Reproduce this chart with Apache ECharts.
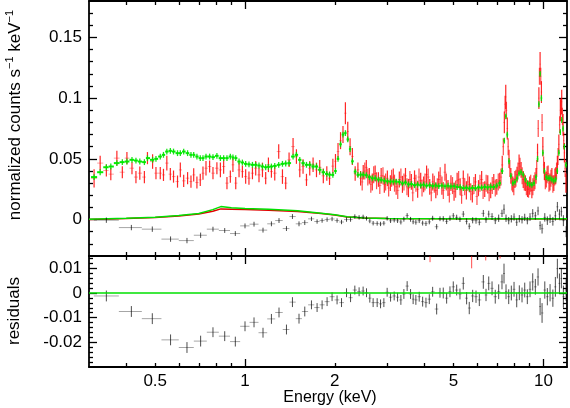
<!DOCTYPE html>
<html>
<head>
<meta charset="utf-8">
<script src="https://cdn.jsdelivr.net/npm/echarts@6/dist/echarts.min.js"></script>
<style>
  html, body { margin: 0; padding: 0; background: #fff; }
  #chart { width: 570px; height: 408px; }
</style>
</head>
<body>
<div id="chart"></div>
<script>
// spectra (red and green groups share the binning), energies in keV
const specE = [
  0.312,0.327,0.343,0.355,0.372,0.388,0.402,0.418,0.431,0.444,
  0.460,0.471,0.490,0.503,0.520,0.533,0.547,0.562,0.576,0.594,
  0.607,0.623,0.642,0.659,0.673,0.690,0.708,0.723,0.740,0.761,
  0.781,0.805,0.827,0.848,0.870,0.893,0.911,0.931,0.955,0.980,
  1.005,1.031,1.059,1.086,1.114,1.144,1.173,1.198,1.226,1.258,
  1.297,1.335,1.369,1.405,1.449,1.487,1.526,1.565,1.607,1.648,
  1.691,1.736,1.78,1.83,1.88,1.92,1.97,2.01,2.05,2.09,
  2.13,2.17,2.21,2.25,2.29,2.34,2.39,2.44,2.49,2.55,
  2.61,2.67,2.73,2.80,2.86,2.93,3.00,3.07,3.14,3.21,
  3.29,3.37,3.45,3.53,3.61,3.70,3.79,3.88,3.97,4.06,
  4.16,4.26,4.36,4.46,4.57,4.68,4.79,4.90,5.02,5.14,
  5.26,5.39,5.52,5.65,5.78,5.92,6.06,6.21,6.36,6.51,
  6.66,6.82,6.98,7.14,7.28,7.40,7.48,7.57,7.67,7.78,
  7.90,8.03,8.16,8.29,8.42,8.56,8.70,8.85,9.00,9.15,
  9.30,9.45,9.56,9.66,9.75,9.85,9.96,10.08,10.22,10.37,
  10.52,10.68,10.84,11.00,11.14,11.27,11.40,11.52,11.64,11.76,
  11.90
];
const redY = [
  0.034,0.0465,0.0404,0.0374,0.0506,0.039,0.0506,0.0423,0.035,0.0382,
  0.035,0.0506,0.0478,0.0382,0.0382,0.0368,0.0465,0.0374,0.0354,0.0313,
  0.0409,0.0319,0.0341,0.0313,0.0368,0.0305,0.0327,0.0382,0.0423,0.0437,
  0.0382,0.0423,0.0409,0.0437,0.030,0.0354,0.0451,0.030,0.0409,0.0395,
  0.0354,0.0341,0.0382,0.0423,0.0368,0.0409,0.0341,0.0451,0.0395,0.0382,
  0.056,0.0354,0.030,0.0492,0.0601,0.0519,0.0409,0.0437,0.0327,0.0423,
  0.0451,0.0409,0.043,0.036,0.038,0.034,0.044,0.048,0.056,0.065,
  0.070,0.0876,0.0725,0.060,0.052,0.038,0.041,0.034,0.039,0.043,
  0.036,0.031,0.038,0.033,0.036,0.029,0.034,0.030,0.035,0.027,
  0.033,0.029,0.036,0.026,0.031,0.034,0.025,0.032,0.029,0.037,
  0.027,0.031,0.024,0.033,0.028,0.039,0.026,0.030,0.023,0.032,
  0.027,0.034,0.024,0.029,0.021,0.031,0.026,0.033,0.025,0.029,
  0.024,0.031,0.027,0.032,0.045,0.080,0.101,0.075,0.050,0.036,
  0.029,0.033,0.037,0.046,0.041,0.033,0.030,0.025,0.028,0.024,
  0.030,0.036,0.055,0.100,0.128,0.105,0.060,0.040,0.033,0.038,
  0.031,0.036,0.030,0.036,0.045,0.062,0.090,0.097,0.078,0.055,
  0.030
];
const redErr = [
  0.0075,0.006,0.005,0.005,0.006,0.005,0.005,0.005,0.005,0.0055,
  0.005,0.005,0.006,0.005,0.005,0.005,0.006,0.005,0.005,0.005,
  0.006,0.005,0.005,0.005,0.0055,0.005,0.005,0.0055,0.006,0.005,
  0.005,0.005,0.006,0.006,0.005,0.005,0.006,0.005,0.006,0.005,
  0.006,0.0055,0.005,0.006,0.006,0.006,0.005,0.006,0.005,0.006,
  0.006,0.006,0.005,0.006,0.007,0.006,0.006,0.006,0.005,0.006,
  0.006,0.006,0.006,0.006,0.006,0.0055,0.006,0.006,0.007,0.007,
  0.007,0.009,0.008,0.007,0.007,0.006,0.006,0.006,0.006,0.006,
  0.0065,0.007,0.0065,0.006,0.0065,0.007,0.0065,0.0065,0.007,0.0065,
  0.0065,0.007,0.0065,0.0075,0.0065,0.0065,0.007,0.0065,0.0065,0.0075,
  0.0065,0.007,0.0065,0.0065,0.0075,0.007,0.0065,0.0065,0.0075,0.0065,
  0.007,0.0065,0.0075,0.0065,0.007,0.0065,0.0065,0.007,0.0065,0.0075,
  0.0065,0.0065,0.0065,0.0065,0.0075,0.009,0.010,0.009,0.0075,0.0065,
  0.0065,0.007,0.0065,0.0075,0.0065,0.007,0.0065,0.0065,0.0075,0.0065,
  0.0065,0.0065,0.0075,0.009,0.010,0.009,0.008,0.0075,0.0065,0.0065,
  0.007,0.0065,0.0065,0.007,0.0075,0.008,0.009,0.010,0.009,0.008,
  0.008
];
// second run of red bins, interleaved with the first above 2.4 keV
const redE2 = [
  2.47,2.52,2.58,2.64,2.70,2.76,2.83,2.90,2.96,3.03,
  3.10,3.17,3.25,3.33,3.41,3.49,3.57,3.65,3.74,3.83,
  3.92,4.01,4.11,4.21,4.31,4.41,4.51,4.62,4.73,4.84,
  4.96,5.08,5.20,5.32,5.45,5.58,5.71,5.85,5.99,6.13,
  6.28,6.43,6.58,6.74,6.90,7.06,7.21,7.34,7.44,7.52,
  7.62,7.72,7.84,7.96,8.09,8.22,8.35,8.49,8.63,8.77,
  8.92,9.07,9.22,9.37,9.50,9.61,9.70,9.80,9.90,10.02,
  10.15,10.29,10.44,10.60,10.76,10.92,11.07,11.20,11.34,11.46,
  11.58,11.70,11.83
];
const redY2 = [
  0.031,0.040,0.035,0.029,0.037,0.032,0.028,0.036,0.031,0.026,
  0.034,0.030,0.024,0.035,0.031,0.027,0.033,0.022,0.030,0.035,
  0.026,0.031,0.035,0.022,0.029,0.027,0.036,0.024,0.031,0.021,
  0.028,0.025,0.033,0.020,0.027,0.031,0.023,0.028,0.019,0.030,
  0.024,0.030,0.022,0.028,0.026,0.031,0.035,0.060,0.095,0.090,
  0.060,0.042,0.031,0.027,0.034,0.040,0.044,0.036,0.031,0.027,
  0.025,0.030,0.027,0.032,0.042,0.075,0.118,0.118,0.080,0.045,
  0.032,0.037,0.030,0.034,0.029,0.035,0.040,0.052,0.078,0.093,
  0.085,0.065,0.042
];
const redErr2 = 0.007;
const greenY = [
  0.035,0.039,0.0431,0.0437,0.0465,0.0473,0.0478,0.0492,0.0486,0.0478,
  0.0473,0.0506,0.0492,0.050,0.0519,0.0533,0.056,0.0566,0.056,0.0547,
  0.0547,0.056,0.0547,0.0533,0.0533,0.0519,0.0506,0.0506,0.0519,0.0519,
  0.0514,0.0525,0.0506,0.0506,0.0506,0.0519,0.0512,0.0506,0.0478,0.047,
  0.0459,0.0455,0.0451,0.0451,0.0445,0.0437,0.0431,0.0434,0.0437,0.0442,
  0.0451,0.0459,0.0462,0.0465,0.0519,0.0533,0.0492,0.0465,0.0451,0.0451,
  0.0437,0.0437,0.041,0.039,0.0376,0.037,0.0368,0.040,0.050,0.062,
  0.070,0.0712,0.066,0.058,0.048,0.0395,0.0368,0.037,0.037,0.0365,
  0.035,0.034,0.034,0.033,0.0327,0.032,0.0315,0.0313,0.0313,0.0313,
  0.031,0.0298,0.0305,0.029,0.0292,0.0283,0.0288,0.0282,0.0287,0.0279,
  0.0283,0.0277,0.0281,0.0276,0.028,0.0274,0.0279,0.0273,0.0275,0.0268,
  0.0266,0.0259,0.0262,0.0256,0.0261,0.0258,0.0266,0.0263,0.0269,0.0265,
  0.027,0.0268,0.028,0.030,0.040,0.065,0.085,0.070,0.048,0.036,
  0.030,0.031,0.034,0.038,0.039,0.037,0.033,0.030,0.029,0.0286,
  0.030,0.035,0.050,0.095,0.120,0.100,0.055,0.040,0.035,0.034,
  0.034,0.033,0.032,0.033,0.040,0.055,0.072,0.082,0.075,0.060,
  0.045
];
const greenErr = 0.0024;

// black group: data (top), residuals (bottom), errors
const blackE = [
  0.343,0.416,0.489,0.563,0.639,0.710,0.781,0.855,0.928,1.000,
  1.072,1.149,1.226,1.300,1.377,1.442,1.517,1.586,1.670,1.744,
  1.813,1.884,1.958,2.035,2.106,2.189,2.258,2.334,2.412,2.488,
  2.554,2.620,2.688,2.773,2.846,2.920,2.995,3.075,3.162,3.246,
  3.330,3.408,3.495,3.588,3.66,3.738,3.836,3.939,4.041,4.146,
  4.255,4.389,4.503,4.618,4.74,4.863,4.989,5.122,5.253,5.389,
  5.53,5.644,5.795,5.946,6.100,6.291,6.423,6.559,6.729,6.898,
  7.083,7.266,7.38,7.496,7.653,7.808,7.974,8.14,8.306,8.481,
  8.660,8.835,9.021,9.211,9.399,9.597,9.75,9.90,10.11,10.31,
  10.53,10.76,10.97,11.14,11.32,11.49,11.67,11.92
];
const blackY = [
  -0.0005,-0.0066,-0.0079,-0.0161,-0.0173,-0.0129,-0.0079,-0.009,-0.0115,-0.0052,
  -0.0038,-0.0087,-0.0035,-0.0008,-0.0074,0.0025,-0.0035,-0.0025,0.0006,-0.0016,
  -0.0008,0.0000,0.0005,-0.0008,-0.002,0.0000,0.0000,0.0025,0.0018,0.0022,
  0.0010,-0.0012,-0.0030,-0.0032,-0.0036,-0.0030,0.0010,-0.0010,-0.0005,-0.0010,
  -0.0020,0.0003,0.0033,0.0002,-0.0018,-0.0022,-0.0009,-0.0029,-0.0033,-0.0019,
  0.0011,-0.0059,0.0007,0.0006,-0.0015,0.0011,0.0031,0.0018,0.0002,0.0045,
  -0.0015,-0.0055,-0.0006,-0.0009,-0.0022,0.0051,-0.0002,0.0045,0.0025,-0.0009,
  0.0011,0.0051,0.0085,0.0011,-0.0009,0.0006,0.0021,-0.0022,0.0007,-0.0002,
  0.0018,-0.0009,0.0021,0.0051,0.0031,0.0071,-0.0049,-0.0075,0.0018,-0.0009,
  0.0007,-0.0015,0.0031,0.0105,0.0045,0.0065,-0.0009,-0.0100
];
const blackRes = [
  -0.0012,-0.0075,-0.0104,-0.019,-0.0221,-0.0195,-0.0159,-0.0175,-0.0197,-0.0135,
  -0.0119,-0.0161,-0.0105,-0.0079,-0.0148,-0.0037,-0.0104,-0.0075,-0.0048,-0.0059,
  -0.0048,-0.0035,-0.0015,-0.0028,-0.0039,0.0001,-0.0019,0.0012,0.0005,0.0008,
  0.0001,-0.0021,-0.0039,-0.0039,-0.0044,-0.0039,0.0003,-0.0017,-0.0012,-0.0017,
  -0.0028,-0.0004,0.0028,-0.0004,-0.0025,-0.0028,-0.0015,-0.0035,-0.0039,-0.0025,
  0.0005,-0.0065,0.0001,0.0000,-0.0021,0.0005,0.0025,0.0012,-0.0004,0.0039,
  -0.0021,-0.0061,-0.0012,-0.0015,-0.0028,0.0045,-0.0008,0.0039,0.0019,-0.0015,
  0.0005,0.0045,0.0079,0.0005,-0.0015,0.0000,0.0015,-0.0028,0.0001,-0.0008,
  0.0012,-0.0015,0.0015,0.0045,0.0025,0.0065,-0.0055,-0.0081,0.0012,-0.0015,
  0.0001,-0.0021,0.0025,0.0099,0.0039,0.0059,-0.0015,0.0012
];
const blackErr = [
  0.0022,0.0022,0.0022,0.0022,0.0022,0.0022,0.002,0.002,0.002,0.002,
  0.002,0.002,0.002,0.002,0.002,0.002,0.002,0.002,0.0018,0.0018,
  0.0018,0.0018,0.0018,0.0018,0.0018,0.0018,0.0018,0.0018,0.0018,0.0018,
  0.0018,0.0018,0.0018,0.0018,0.0018,0.0018,0.0018,0.0018,0.0018,0.0018,
  0.002,0.002,0.002,0.002,0.002,0.002,0.002,0.002,0.002,0.002,
  0.002,0.0022,0.002,0.0022,0.0022,0.0022,0.0022,0.0022,0.0022,0.0025,
  0.0025,0.0025,0.0025,0.0025,0.0025,0.0028,0.0025,0.0028,0.0028,0.0028,
  0.003,0.003,0.004,0.003,0.003,0.003,0.003,0.003,0.003,0.003,
  0.003,0.003,0.0032,0.0035,0.0032,0.0035,0.0035,0.004,0.0035,0.0035,
  0.0035,0.0035,0.004,0.004,0.004,0.004,0.0045,0.0045
];

// model curves near zero in the upper panel
const modelE = [0.3,0.4,0.5,0.6,0.7,0.78,0.83,0.9,1.0,1.2,1.5,1.8,2.0,2.2,2.5,3.0,5.0,12];
const redModel = [0.0,0.0008,0.0017,0.003,0.0045,0.0068,0.0088,0.0086,0.0082,0.0076,0.0066,0.005,0.0038,0.0022,0.0012,0.0008,0.0006,0.0004];
const greenModel = [0.0002,0.001,0.002,0.0033,0.005,0.0082,0.0107,0.0098,0.0092,0.0085,0.0072,0.0052,0.004,0.0024,0.0013,0.0009,0.0007,0.0006];

// red residuals, mostly above the plotted range
const redResE = [4.17, 5.75, 6.41, 7.16];
const redRes = [0.017, 0.016, 0.017, 0.0175];
const redResErr = [0.0045, 0.006, 0.0038, 0.0035];

// zero line of the residual panel
const zeroE = [0.3, 12];
const zeroY = [0, 0];

// ticks
const xLabels = [0.5, 1, 2, 5, 10];
const xMajor = [1, 10];
const xMinor = [0.4, 0.5, 0.6, 0.7, 0.8, 0.9, 2, 3, 4, 5, 6, 7, 8, 9];
const yTopLabels = [0, 0.05, 0.1, 0.15];
const yTopMinor = [-0.02,-0.01,0.01,0.02,0.03,0.04,0.06,0.07,0.08,0.09,0.11,0.12,0.13,0.14,0.16,0.17];
const yBotLabels = [-0.02, -0.01, 0, 0.01];
const yBotMinor = [-0.028,-0.026,-0.024,-0.022,-0.018,-0.016,-0.014,-0.012,-0.008,-0.006,-0.004,-0.002,0.002,0.004,0.006,0.008,0.012,0.014];

const FONT = 'Liberation Sans, Arial, Helvetica, sans-serif';
const xMin = Math.log10(0.3), xMax = Math.log10(12);
const lg = v => Math.log10(v);

// [logE, y, logE left edge, logE right edge, err]
function bars(E, Y, err) {
  const lx = E.map(lg);
  const n = lx.length;
  return lx.map((x, i) => {
    const l = i > 0 ? (lx[i - 1] + x) / 2 : x - (n > 1 ? (lx[1] - lx[0]) / 2 : 0.01);
    const r = i < n - 1 ? (x + lx[i + 1]) / 2 : x + (n > 1 ? (x - lx[i - 1]) / 2 : 0.01);
    const e = Array.isArray(err) ? err[i] : err;
    return [x, Y[i], l, r, e];
  });
}

function errRender(hColor, vColor, hw, vw, noH) {
  return function (params, api) {
    const y = api.value(1), e = api.value(4);
    const c = api.coord([api.value(0), y]);
    const l = api.coord([api.value(2), y]);
    const r = api.coord([api.value(3), y]);
    const t = api.coord([api.value(0), y + e]);
    const b = api.coord([api.value(0), y - e]);
    const kids = [
      { type: 'line', shape: { x1: c[0], y1: t[1], x2: c[0], y2: b[1] }, style: { stroke: vColor, lineWidth: vw } }
    ];
    if (!noH) kids.unshift({ type: 'line', shape: { x1: l[0], y1: c[1], x2: r[0], y2: c[1] }, style: { stroke: hColor, lineWidth: hw } });
    return { type: 'group', children: kids };
  };
}

const fmtE = v => String(parseFloat(Math.pow(10, v).toPrecision(3)));

function xAx(grid, pos, ticks, len, line, labels) {
  return {
    type: 'value', gridIndex: grid, position: pos, min: xMin, max: xMax,
    axisLine: { show: line, onZero: false, lineStyle: { color: '#000', width: 1.8 } },
    axisTick: { show: true, inside: true, length: len, customValues: ticks.map(lg), lineStyle: { color: '#000', width: 1.3 } },
    axisLabel: labels
      ? { show: true, customValues: labels.map(lg), formatter: fmtE, color: '#000', fontSize: 17, fontFamily: FONT, margin: 6 }
      : { show: false },
    splitLine: { show: false }
  };
}

function yAx(grid, pos, min, max, ticks, len, line, labels) {
  return {
    type: 'value', gridIndex: grid, position: pos, min: min, max: max,
    axisLine: { show: line, onZero: false, lineStyle: { color: '#000', width: 1.8 } },
    axisTick: { show: true, inside: true, length: len, customValues: ticks, lineStyle: { color: '#000', width: 1.3 } },
    axisLabel: labels
      ? { show: true, customValues: labels, formatter: v => String(v), color: '#000', fontSize: 17, fontFamily: FONT, margin: 7 }
      : { show: false },
    splitLine: { show: false }
  };
}

const xAxes = [
  // top panel: 0..3
  xAx(0, 'bottom', xMinor, 4, true, null),
  xAx(0, 'bottom', xMajor, 8, false, null),
  xAx(0, 'top', xMinor, 4, true, null),
  xAx(0, 'top', xMajor, 8, false, null),
  // bottom panel: 4..7
  xAx(1, 'bottom', xMinor, 4, true, xLabels),
  xAx(1, 'bottom', xMajor, 8, false, null),
  xAx(1, 'top', xMinor, 4, true, null),
  xAx(1, 'top', xMajor, 8, false, null)
];
const yAxes = [
  yAx(0, 'left', -0.03, 0.18, yTopLabels, 8, true, yTopLabels),
  yAx(0, 'left', -0.03, 0.18, yTopMinor, 4, false, null),
  yAx(0, 'right', -0.03, 0.18, yTopLabels, 8, true, null),
  yAx(0, 'right', -0.03, 0.18, yTopMinor, 4, false, null),
  yAx(1, 'left', -0.03, 0.015, yBotLabels, 8, true, yBotLabels),
  yAx(1, 'left', -0.03, 0.015, yBotMinor, 4, false, null),
  yAx(1, 'right', -0.03, 0.015, yBotLabels, 8, true, null),
  yAx(1, 'right', -0.03, 0.015, yBotMinor, 4, false, null)
];

function errSeries(data, xi, yi, h, v, hw, vw, z, noH) {
  return {
    type: 'custom', xAxisIndex: xi, yAxisIndex: yi, clip: true, z: z,
    renderItem: errRender(h, v, hw, vw, noH),
    encode: { x: 0, y: 1 },
    data: data, silent: true
  };
}

function lineSeries(E, Y, xi, yi, color, w, z) {
  return {
    type: 'line', xAxisIndex: xi, yAxisIndex: yi, z: z,
    data: E.map((e, i) => [lg(e), Y[i]]),
    showSymbol: false, symbol: 'none', silent: true,
    lineStyle: { color: color, width: w }
  };
}

const chart = echarts.init(document.getElementById('chart'), null, { renderer: 'canvas' });
chart.setOption({
  animation: false,
  backgroundColor: '#fff',
  grid: [
    { left: 89, right: 3, top: 1, height: 255 },
    { left: 89, right: 3, top: 256, height: 111 }
  ],
  xAxis: xAxes,
  yAxis: yAxes,
  series: [
    errSeries(bars(specE, redY, redErr), 0, 0, 'rgba(255,70,70,0.5)', 'rgba(255,0,0,0.85)', 1, 1.2, 2),
    errSeries(bars(redE2, redY2, redErr2), 0, 0, 'rgba(255,70,70,0.5)', 'rgba(255,0,0,0.7)', 1, 1.2, 2),
    errSeries(bars(specE, greenY, greenErr), 0, 0, 'rgba(0,240,0,1)', 'rgba(0,225,0,0.9)', 2, 1.3, 3),
    lineSeries(modelE, redModel, 0, 0, '#e00000', 1.5, 4),
    lineSeries(modelE, greenModel, 0, 0, '#00e000', 1.5, 4),
    errSeries(bars(blackE, blackY, blackErr), 0, 0, 'rgba(0,0,0,0.35)', 'rgba(0,0,0,0.7)', 1, 1, 5),
    errSeries(bars(blackE, blackRes, blackErr), 4, 4, 'rgba(0,0,0,0.35)', 'rgba(0,0,0,0.7)', 1, 1, 5),
    errSeries(bars(redResE, redRes, redResErr), 4, 4, 'rgba(255,0,0,0.6)', 'rgba(255,0,0,0.7)', 1, 1, 4, true),
    lineSeries(zeroE, zeroY, 4, 4, '#00e000', 1.5, 6)
  ],
  graphic: [
    {
      type: 'text', x: 14, y: 115, rotation: Math.PI / 2,
      style: {
        text: '{n|normalized counts s}{s|−1}{n| keV}{s|−1}',
        align: 'center', verticalAlign: 'middle', fill: '#000',
        rich: {
          n: { fontSize: 17, fontFamily: FONT, fill: '#000', lineHeight: 20, verticalAlign: 'bottom' },
          s: { fontSize: 11, fontFamily: FONT, fill: '#000', verticalAlign: 'top' }
        }
      }
    },
    {
      type: 'text', x: 14, y: 311, rotation: Math.PI / 2,
      style: { text: 'residuals', font: '17px ' + FONT, fill: '#000', align: 'center', verticalAlign: 'middle' }
    },
    {
      type: 'text', x: 330, y: 398,
      style: { text: 'Energy (keV)', font: '16px ' + FONT, fill: '#000', align: 'center', verticalAlign: 'middle' }
    }
  ]
});
</script>
</body>
</html>
